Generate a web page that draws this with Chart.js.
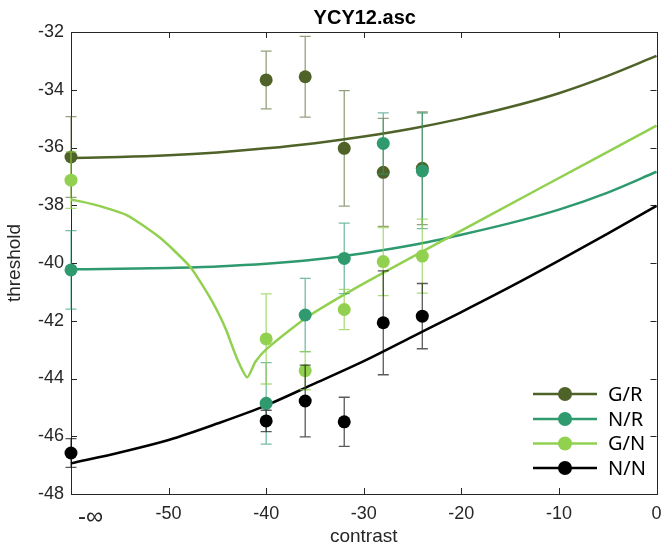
<!DOCTYPE html>
<html><head><meta charset="utf-8">
<script src="https://cdn.jsdelivr.net/npm/chart.js@4/dist/chart.umd.min.js"></script>
<style>html,body{margin:0;padding:0;background:#fff}#wrap{width:663px;height:552px;position:relative}</style>
</head><body><div id="wrap"><canvas id="c" width="663" height="552"></canvas></div>
<script>
// ---- data ----
const titleText = 'YCY12.asc';
const seriesNames = ['G/R', 'N/R', 'G/N', 'N/N'];
const seriesColors = ['#4f6228', '#2e9a6e', '#92d050', '#000000'];
const errColors = ['rgba(79,98,40,0.6)', 'rgba(46,154,110,0.65)', 'rgba(146,208,80,0.75)', 'rgba(0,0,0,0.65)'];

const contrastPts = [-60, -40, -36, -32, -28, -24];
const thrGR = [-36.33, -33.66, -33.55, -36.03, -36.86, -36.72];
const errGR = [1.40, 1.00, 1.40, 2.00, 1.87, 1.95];
const thrNR = [-40.24, -44.86, -41.80, -39.84, -35.86, -36.81];
const errNR = [1.36, 1.41, 1.27, 1.22, 1.06, 2.00];
const thrGN = [-37.13, -42.63, -43.73, -41.61, -39.95, -39.76];
const errGN = [0.98, 1.56, 0.66, 0.70, 1.18, 1.28];
const thrNN = [-46.58, -45.47, -44.78, -45.50, -42.07, -41.84];
const errNN = [0.50, 0.37, 1.24, 0.85, 1.80, 1.13];

const fitX = [-60, -55, -50, -45, -40, -35, -30, -25, -20, -15, -10, -5, 0];
const fitGR = [-36.36, -36.33, -36.27, -36.17, -36.03, -35.85, -35.62, -35.34, -35.00, -34.60, -34.12, -33.52, -32.83];
const fitNR = [-40.22, -40.20, -40.17, -40.12, -40.03, -39.88, -39.66, -39.38, -39.02, -38.62, -38.15, -37.56, -36.84];
const fitNN = [-46.94, -46.56, -46.13, -45.56, -44.93, -44.17, -43.40, -42.55, -41.70, -40.83, -39.92, -38.98, -38.02];
const fitGNx = [-60, -57.7, -54.3, -50.9, -47.8, -45.8, -44.8, -44.1, -43.0, -41.95, -41.1, -40.0, -36.0, -31.2, -24.3, -12.0, 0];
const fitGNy = [-37.80, -37.97, -38.34, -39.12, -40.13, -41.17, -41.80, -42.32, -43.30, -43.96, -43.42, -42.99, -41.92, -40.94, -39.66, -37.42, -35.24];

const xTickValues = [-58, -50, -40, -30, -20, -10, 0];
const xTickLabels = ['-∞', '-50', '-40', '-30', '-20', '-10', '0'];
const xMarkValues = [-50, -40, -30, -20, -10];
const yTickValues = [-48, -46, -44, -42, -40, -38, -36, -34, -32];

// ---- build datasets ----
const pts = (xs, ys) => xs.map((x, i) => ({x, y: ys[i]}));
const thr = [thrGR, thrNR, thrGN, thrNN];
const errs = [errGR, errNR, errGN, errNN];
const fits = [pts(fitX, fitGR), pts(fitX, fitNR), pts(fitGNx, fitGNy), pts(fitX, fitNN)];
const datasets = [];
seriesNames.forEach((n, i) => {
  const ds = {
    label: n + ' fit', data: fits[i], showLine: true, borderColor: seriesColors[i],
    borderWidth: 2.5, pointRadius: 0, order: 8 - i, clip: false
  };
  if (i === 2) ds.tension = 0.2; else ds.cubicInterpolationMode = 'monotone';
  datasets.push(ds);
});
seriesNames.forEach((n, i) => {
  datasets.push({
    label: n, data: pts(contrastPts, thr[i]), showLine: false, backgroundColor: seriesColors[i],
    borderColor: seriesColors[i], borderWidth: 0, pointRadius: 6.5, pointHoverRadius: 6.5,
    order: 4 - i, clip: false, errors: errs[i], errColor: errColors[i]
  });
});

const AX = '#262626';
const FONT = "'Liberation Sans', Arial, sans-serif";

const decor = {
  id: 'decor',
  beforeDatasetsDraw(chart) {
    const {ctx, chartArea: a, scales: {x, y}} = chart;
    ctx.save();
    ctx.strokeStyle = AX; ctx.lineWidth = 1;
    ctx.strokeRect(Math.round(a.left) + 0.5, Math.round(a.top) + 0.5, Math.round(a.right - a.left), Math.round(a.bottom - a.top));
    ctx.beginPath();
    xMarkValues.forEach(v => {
      const px = Math.round(x.getPixelForValue(v)) + 0.5;
      ctx.moveTo(px, a.bottom); ctx.lineTo(px, a.bottom - 6);
      ctx.moveTo(px, a.top); ctx.lineTo(px, a.top + 6);
    });
    yTickValues.slice(1, -1).forEach(v => {
      const py = Math.round(y.getPixelForValue(v)) + 0.5;
      ctx.moveTo(a.left, py); ctx.lineTo(a.left + 6, py);
      ctx.moveTo(a.right, py); ctx.lineTo(a.right - 6, py);
    });
    ctx.stroke();
    ctx.restore();
  },
  beforeDatasetDraw(chart, args) {
    const ds = chart.data.datasets[args.index];
    if (!ds.errors) return;
    const {ctx, scales: {x, y}} = chart;
    ctx.save();
    ctx.strokeStyle = ds.errColor; ctx.lineWidth = 1.3;
    ctx.beginPath();
    ds.data.forEach((p, i) => {
      const e = ds.errors[i];
      const px = x.getPixelForValue(p.x);
      const y1 = y.getPixelForValue(p.y + e), y2 = y.getPixelForValue(p.y - e);
      ctx.moveTo(px, y1); ctx.lineTo(px, y2);
      ctx.moveTo(px - 5.5, y1); ctx.lineTo(px + 5.5, y1);
      ctx.moveTo(px - 5.5, y2); ctx.lineTo(px + 5.5, y2);
    });
    ctx.stroke();
    ctx.restore();
  },
  afterDraw(chart) {
    const {ctx, chartArea: a} = chart;
    ctx.save();
    // title
    ctx.fillStyle = '#000';
    ctx.font = "bold 20px " + FONT;
    ctx.textAlign = 'center'; ctx.textBaseline = 'alphabetic';
    ctx.fillText(titleText, (a.left + a.right) / 2 + 1, 24);
    // legend
    const rows = [394, 419, 443.5, 468];
    ctx.font = "20px 'Noto Sans', 'Open Sans', sans-serif";
    ctx.textAlign = 'left'; ctx.textBaseline = 'middle';
    seriesNames.forEach((n, i) => {
      const yy = rows[i];
      ctx.strokeStyle = seriesColors[i]; ctx.lineWidth = 2.5;
      ctx.beginPath(); ctx.moveTo(533, yy); ctx.lineTo(597, yy); ctx.stroke();
      ctx.fillStyle = seriesColors[i];
      ctx.beginPath(); ctx.arc(565, yy, 7, 0, Math.PI * 2); ctx.fill();
      ctx.fillStyle = '#000';
      ctx.fillText(n, 608, yy + 1);
    });
    ctx.restore();
  }
};

new Chart(document.getElementById('c'), {
  type: 'scatter',
  data: {datasets},
  plugins: [decor],
  options: {
    responsive: false, animation: false, devicePixelRatio: 1,
    layout: {padding: {top: 32, right: 5, left: 0, bottom: 0}},
    plugins: {legend: {display: false}, title: {display: false}, tooltip: {enabled: false}},
    scales: {
      x: {
        type: 'linear', min: -60, max: 0,
        afterBuildTicks: s => { s.ticks = xTickValues.map(v => ({value: v})); },
        afterFit: s => { s.height = 58; s.paddingRight = 0; s.paddingLeft = 0; },
        grid: {display: false, drawTicks: false},
        border: {display: false},
        ticks: {
          autoSkip: false, maxRotation: 0, color: AX, padding: 9,
          font: ctx => (ctx.tick && ctx.tick.value === -58) ? {family: FONT, size: 24} : {family: FONT, size: 18},
          callback: v => xTickLabels[xTickValues.indexOf(v)]
        },
        title: {display: true, text: 'contrast', color: AX, font: {family: FONT, size: 19}, padding: {top: 0, bottom: 4}}
      },
      y: {
        type: 'linear', min: -48, max: -32,
        afterBuildTicks: s => { s.ticks = yTickValues.map(v => ({value: v})); },
        afterFit: s => { s.width = 71; s.paddingTop = 0; s.paddingBottom = 0; },
        grid: {display: false, drawTicks: false},
        border: {display: false},
        ticks: {color: AX, padding: 7, font: {family: FONT, size: 18}, callback: v => String(v)},
        title: {display: true, text: 'threshold', color: AX, font: {family: FONT, size: 19}, padding: {top: 3, bottom: 0}}
      }
    }
  }
});
</script></body></html>
